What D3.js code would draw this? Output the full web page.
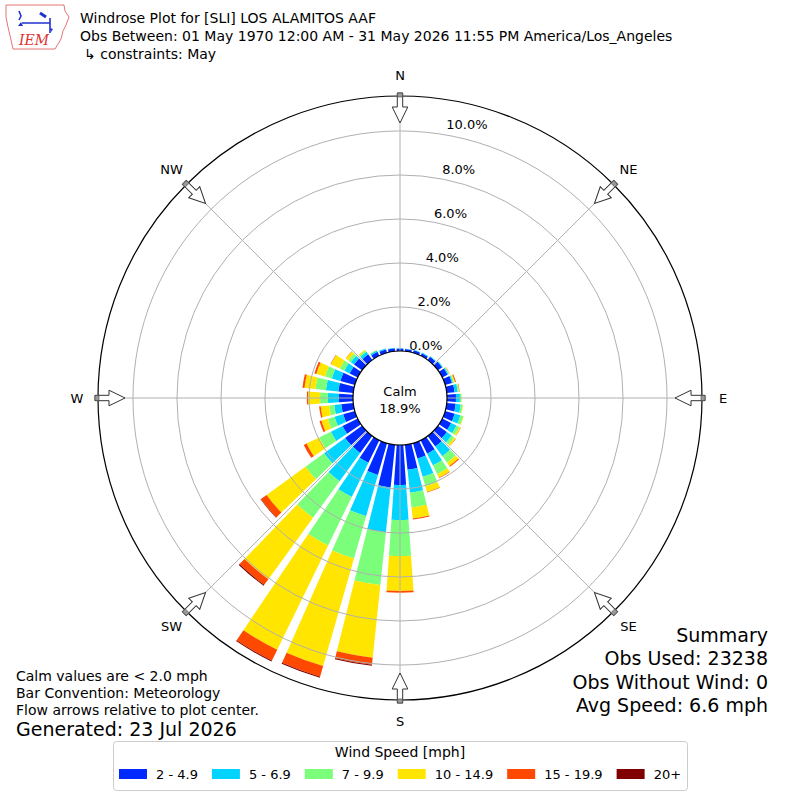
<!DOCTYPE html>
<html>
<head>
<meta charset="utf-8">
<script src="https://cdn.jsdelivr.net/npm/d3@7"></script>
<style>
  body { margin: 0; background: #fff; }
  text { font-family: "DejaVu Sans", sans-serif; fill: #000; }
</style>
</head>
<body>
<div id="chart"></div>
<script>
// Direction bins (degrees, meteorological "from")
const directions = [0, 10, 20, 30, 40, 50, 60, 70, 80, 90, 100, 110, 120, 130, 140, 150, 160, 170,
                    180, 190, 200, 210, 220, 230, 240, 250, 260, 270, 280, 290, 300, 310, 320, 330, 340, 350];

// Frequency (%) per speed bin, one value per direction
const speed2to5 = [0.11, 0.10, 0.12, 0.13, 0.18, 0.23, 0.27, 0.32, 0.36, 0.41, 0.41, 0.45, 0.45, 0.50, 0.59, 0.68, 0.73, 1.14,
                   1.82, 1.95, 1.50, 1.14, 0.95, 0.95, 0.77, 0.55, 0.55, 0.64, 0.68, 0.68, 0.41, 0.45, 0.32, 0.20, 0.16, 0.14];
const speed5to7 = [0.02, 0.02, 0.02, 0.03, 0.03, 0.04, 0.05, 0.05, 0.14, 0.18, 0.23, 0.27, 0.27, 0.27, 0.55, 0.59, 0.86, 1.05,
                   1.59, 2.05, 1.95, 1.73, 1.59, 1.18, 0.59, 0.41, 0.32, 0.50, 0.57, 0.41, 0.27, 0.18, 0.14, 0.07, 0.05, 0.02];
const speed7to10 = [0, 0, 0, 0, 0.01, 0.01, 0.03, 0.05, 0.05, 0.07, 0.09, 0.14, 0.14, 0.14, 0.36, 0.45, 0.45, 0.68,
                    1.64, 2.41, 2.00, 2.45, 2.05, 1.05, 0.59, 0.32, 0.23, 0.36, 0.48, 0.32, 0.23, 0.14, 0.07, 0.02, 0, 0];
const speed10to15 = [0, 0, 0, 0, 0, 0, 0.02, 0.05, 0.02, 0.01, 0.02, 0.02, 0.07, 0.09, 0.18, 0.18, 0.27, 0.50,
                     1.59, 3.32, 5.09, 5.27, 3.45, 2.18, 0.64, 0.30, 0.39, 0.55, 0.50, 0.41, 0.45, 0.14, 0.05, 0.01, 0, 0];
const speed15to20 = [0, 0, 0, 0, 0, 0, 0.01, 0.04, 0.02, 0, 0, 0, 0.01, 0.01, 0.05, 0.02, 0.02, 0.05,
                     0.07, 0.32, 0.50, 0.55, 0.32, 0.32, 0.14, 0.09, 0.07, 0.05, 0.09, 0.09, 0.02, 0.01, 0, 0, 0, 0];
const speed20plus = [0, 0, 0, 0, 0, 0, 0, 0, 0, 0, 0, 0, 0, 0, 0, 0, 0, 0,
                     0, 0.05, 0.05, 0.05, 0.05, 0.02, 0, 0, 0, 0, 0, 0, 0, 0, 0, 0, 0, 0];

const speedLabels = ["2 - 4.9", "5 - 6.9", "7 - 9.9", "10 - 14.9", "15 - 19.9", "20+"];
const speedColors = ["#002aff", "#00d4ff", "#7bff7b", "#ffe500", "#ff4800", "#800000"];

const ringTicks = [0, 2, 4, 6, 8, 10];
const compassAngles = [0, 45, 90, 135, 180, 225, 270, 315];
const compassNames = ["N", "NE", "E", "SE", "S", "SW", "W", "NW"];

const calmPct = "18.9%";
const titleLines = ["Windrose Plot for [SLI] LOS ALAMITOS AAF",
                    "Obs Between: 01 May 1970 12:00 AM - 31 May 2026 11:55 PM America/Los_Angeles",
                    "\u21b3 constraints: May"];
const summaryLines = ["Summary", "Obs Used: 23238", "Obs Without Wind: 0", "Avg Speed: 6.6 mph"];
const noteLines = ["Calm values are < 2.0 mph", "Bar Convention: Meteorology", "Flow arrows relative to plot center."];

const width = 800, height = 800;
const cx = 400, cy = 398;
const toRad = d => d * Math.PI / 180;

const svg = d3.select("#chart").append("svg")
    .attr("width", width)
    .attr("height", height);

svg.append("rect").attr("width", width).attr("height", height).attr("fill", "#fff");

// radial scale: 0% sits on the calm circle, upper end is the frame
const r = d3.scaleLinear().domain([0, 11.59]).range([47, 302]);

const keys = ["s0", "s1", "s2", "s3", "s4", "s5"];
const series = [speed2to5, speed5to7, speed7to10, speed10to15, speed15to20, speed20plus];
const rows = directions.map((d, i) => {
    const row = {dir: d};
    keys.forEach((k, j) => row[k] = series[j][i]);
    return row;
});
const stacked = d3.stack().keys(keys)(rows);
const color = d3.scaleOrdinal().domain(keys).range(speedColors);

const arc = d3.arc()
    .innerRadius(d => r(d[0]))
    .outerRadius(d => r(d[1]))
    .startAngle(d => toRad(d.data.dir - 4))
    .endAngle(d => toRad(d.data.dir + 4));

const plot = svg.append("g").attr("transform", `translate(${cx},${cy})`);

// bars
plot.append("g").selectAll("g")
    .data(stacked)
    .join("g")
    .attr("fill", s => color(s.key))
    .selectAll("path")
    .data(s => s.filter(d => d[1] > d[0]))
    .join("path")
    .attr("d", arc);

// grid on top of bars
plot.append("g").selectAll("circle")
    .data(ringTicks.slice(1))
    .join("circle")
    .attr("r", d => r(d))
    .attr("fill", "none")
    .attr("stroke", "#b0b0b0")
    .attr("stroke-width", 1);

plot.append("g").selectAll("line")
    .data(compassAngles)
    .join("line")
    .attr("x1", 0).attr("y1", 0)
    .attr("x2", d => r.range()[1] * Math.sin(toRad(d)))
    .attr("y2", d => -r.range()[1] * Math.cos(toRad(d)))
    .attr("stroke", "#b0b0b0")
    .attr("stroke-width", 1);

// outer frame
plot.append("circle")
    .attr("r", r.range()[1])
    .attr("fill", "none")
    .attr("stroke", "#000")
    .attr("stroke-width", 1.2);

// calm circle
plot.append("circle")
    .attr("r", r(0))
    .attr("fill", "#fff")
    .attr("stroke", "#000")
    .attr("stroke-width", 1.2);
plot.append("text").attr("x", 0).attr("y", -7).attr("text-anchor", "middle")
    .attr("dominant-baseline", "central").style("font-size", "13px").text("Calm");
plot.append("text").attr("x", 0).attr("y", 10).attr("text-anchor", "middle")
    .attr("dominant-baseline", "central").style("font-size", "13px").text(calmPct);

// ring labels
plot.append("g").selectAll("text")
    .data(ringTicks)
    .join("text")
    .attr("x", d => 17 + 0.187 * r(d))
    .attr("y", d => -(r(d) + 6))
    .attr("text-anchor", "middle")
    .attr("dominant-baseline", "central")
    .style("font-size", "13px")
    .text(d => d3.format(".1f")(d) + "%");

// compass labels
plot.append("g").selectAll("text")
    .data(compassAngles)
    .join("text")
    .attr("x", d => 323 * Math.sin(toRad(d)))
    .attr("y", d => -323 * Math.cos(toRad(d)))
    .attr("text-anchor", "middle")
    .attr("dominant-baseline", "central")
    .style("font-size", "13px")
    .text((d, i) => compassNames[i]);

// flow arrows pointing at the center
const arrows = plot.append("g").selectAll("g")
    .data(compassAngles)
    .join("g")
    .attr("transform", d => `rotate(${d})`);
arrows.append("path")
    .attr("d", "M-2.7,-305 L2.7,-305 L2.7,-291 L7.8,-291 L0,-275 L-7.8,-291 L-2.7,-291 Z")
    .attr("fill", "#fff")
    .attr("stroke", "#333")
    .attr("stroke-width", 1);
arrows.append("rect")
    .attr("x", -2.7).attr("y", -305).attr("width", 5.4).attr("height", 4)
    .attr("fill", "#999").attr("stroke", "#444").attr("stroke-width", 0.6);

// titles
svg.append("g").selectAll("text")
    .data(titleLines)
    .join("text")
    .attr("x", (d, i) => i == 2 ? 84 : 80)
    .attr("y", (d, i) => 18 + i * 18)
    .attr("dominant-baseline", "central")
    .style("font-size", "14px")
    .text(d => d);

// summary (right)
svg.append("g").selectAll("text")
    .data(summaryLines)
    .join("text")
    .attr("x", 768)
    .attr("y", (d, i) => 635 + i * 23.4)
    .attr("text-anchor", "end")
    .attr("dominant-baseline", "central")
    .style("font-size", "19px")
    .text(d => d);

// notes (left)
svg.append("g").selectAll("text")
    .data(noteLines)
    .join("text")
    .attr("x", 16)
    .attr("y", (d, i) => 676 + i * 17)
    .attr("dominant-baseline", "central")
    .style("font-size", "14px")
    .text(d => d);
svg.append("text").attr("x", 16).attr("y", 729).attr("dominant-baseline", "central")
    .style("font-size", "19px").text("Generated: 23 Jul 2026");

// legend
const legend = svg.append("g");
legend.append("rect")
    .attr("x", 113.5).attr("y", 741.5).attr("width", 574).attr("height", 49).attr("rx", 3)
    .attr("fill", "#fff").attr("stroke", "#ccc");
legend.append("text").attr("x", 400).attr("y", 752).attr("text-anchor", "middle")
    .attr("dominant-baseline", "central").style("font-size", "14px").text("Wind Speed [mph]");
let lx = 119;
speedLabels.forEach((lab, i) => {
    legend.append("rect").attr("x", lx).attr("y", 769).attr("width", 28).attr("height", 10)
        .attr("fill", speedColors[i]);
    const t = legend.append("text").attr("x", lx + 37).attr("y", 774)
        .attr("dominant-baseline", "central").style("font-size", "13px").text(lab);
    lx += 37 + t.node().getComputedTextLength() + 14;
});

// IEM logo (rough)
const logo = svg.append("g");
logo.append("path")
    .attr("d", "M6,5 L64,5 L65,11 L69,17 L66,25 L63,31 L61,39 L58,44 L55,49 L13,49 L11,40 L8,27 L6,17 Z")
    .attr("fill", "none").attr("stroke", "#e05050").attr("stroke-width", 0.8);
logo.append("path")
    .attr("d", "M19,11 L21,16 L19,20 M22,23 L50,23 M50,18 L50,33")
    .attr("fill", "none").attr("stroke", "#2233cc").attr("stroke-width", 1.6);
logo.append("path")
    .attr("d", "M40,13 L46,17")
    .attr("fill", "none").attr("stroke", "#2233cc").attr("stroke-width", 3);
logo.append("path")
    .attr("d", "M18,26 L21,22 L23,26 Z M50,28 L53,29 L51,32 Z")
    .attr("fill", "#2233cc");
logo.append("text").attr("x", 19).attr("y", 45)
    .style("font-family", "'DejaVu Serif', serif").style("font-style", "italic")
    .style("font-size", "14px").style("fill", "#d33").text("IEM");
</script>
</body>
</html>
